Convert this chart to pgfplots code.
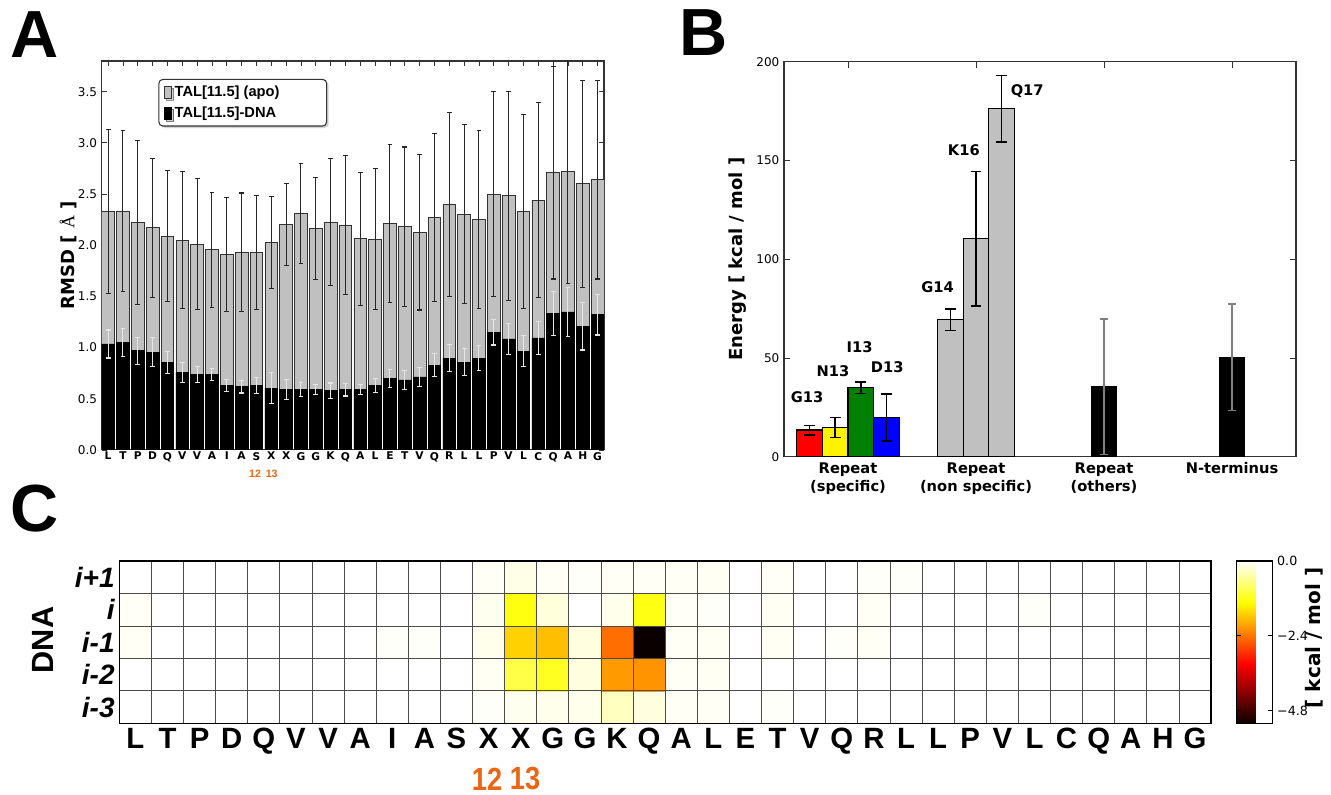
\documentclass[border=0pt]{standalone}
\usepackage{pgfplots}
\pgfplotsset{compat=1.18}
\usepackage{pgfplotstable}
\usepackage{fontspec}
\setmainfont{DejaVu Sans}
\newfontfamily\lib{Liberation Sans}
\newfontfamily\libserif{Liberation Serif}
\usetikzlibrary{shadows}
\definecolor{silverg}{RGB}{192,192,192}
\definecolor{orng}{RGB}{234,102,20}
\definecolor{mplgreen}{RGB}{0,128,0}
\pgfplotsset{colormap={hotcm}{rgb255(0cm)=(11,0,0); rgb255(3.65cm)=(255,0,0); rgb255(7.46cm)=(255,255,0); rgb255(10cm)=(255,255,255)}}

\pgfplotstableread{
i g ge b be
0 2.33 0.80 1.035 0.137
1 2.335 0.79 1.048 0.137
2 2.22 0.80 0.968 0.135
3 2.17 0.68 0.955 0.143
4 2.09 0.64 0.855 0.105
5 2.05 0.67 0.758 0.098
6 2.01 0.64 0.735 0.076
7 1.955 0.56 0.735 0.058
8 1.91 0.56 0.629 0.055
9 1.93 0.58 0.616 0.06
10 1.93 0.56 0.632 0.077
11 2.03 0.45 0.603 0.153
12 2.20 0.40 0.590 0.095
13 2.31 0.49 0.590 0.071
14 2.165 0.50 0.587 0.05
15 2.227 0.62 0.580 0.074
16 2.198 0.68 0.590 0.063
17 2.064 0.65 0.587 0.05
18 2.06 0.69 0.629 0.071
19 2.21 0.77 0.697 0.089
20 2.18 0.78 0.684 0.09
21 2.127 0.76 0.713 0.094
22 2.27 0.82 0.826 0.113
23 2.40 0.90 0.897 0.132
24 2.305 0.875 0.858 0.129
25 2.25 0.87 0.897 0.119
26 2.50 1.00 1.148 0.123
27 2.484 1.02 1.084 0.148
28 2.328 0.95 0.965 0.153
29 2.44 0.95 1.094 0.16
30 2.71 1.04 1.335 0.215
31 2.724 1.10 1.348 0.242
32 2.60 1.01 1.21 0.234
33 2.64 0.97 1.323 0.2
}\dataA

\begin{document}
\begin{tikzpicture}
\useasboundingbox (0,0) rectangle (998.25pt,596.25pt);

% ---------------- Panel A ----------------
\begin{axis}[
  at={(76.3pt,258.8pt)}, anchor=south west, scale only axis,
  width=376.7pt, height=291.7pt,
  xmin=-0.43, xmax=33.43, ymin=0, ymax=3.8,
  xtick={0,...,33},
  xticklabels={L,T,P,D,Q,V,V,A,I,A,S,X,X,G,G,K,Q,A,L,E,T,V,Q,R,L,L,P,V,L,C,Q,A,H,G},
  ytick={0,0.5,1,1.5,2,2.5,3,3.5},
  tick align=inside, major tick length=4pt,
  tick style={black!80, line width=0.6pt},
  axis line style={black!80, line width=0.8pt},
  xticklabel style={font=\bfseries\fontsize{8}{9}\selectfont, inner sep=1.5pt},
  yticklabel style={font=\fontsize{9}{10}\selectfont, /pgf/number format/fixed, /pgf/number format/fixed zerofill, /pgf/number format/precision=1, /pgf/number format/assume math mode=true},
  ylabel={\bfseries RMSD [ {\libserif\mdseries Å} ]},
  ylabel style={at={(axis description cs:-0.067,0.5)}, anchor=center, font=\bfseries\fontsize{13.5}{15}\selectfont},
  legend image code/.code={\draw[#1, line width=0.6pt, sharp corners] (0pt,-4.5pt) rectangle (5.25pt,4.5pt);},
  legend style={at={(0.1127,0.954)}, anchor=north west, draw=black!80, line width=0.8pt, rounded corners=3pt, fill=white,
    font=\lib\bfseries\fontsize{11}{13}\selectfont, row sep=2pt, inner xsep=4pt, inner ysep=3pt,
    drop shadow={shadow xshift=1.5pt, shadow yshift=-1.5pt, fill=black!35}},
  legend cell align=left,
]
\addplot[ybar, bar width=0.86, bar shift=0pt, fill=silverg, draw=black!80, line width=0.6pt,
  error bars/.cd, y dir=both, y explicit,
  error bar style={black!85, line width=0.8pt},
  error mark options={rotate=90, black!85, line width=0.8pt, mark size=1.8pt}]
  table[x=i, y=g, y error=ge] {\dataA};
\addlegendentry{\makebox[108pt][l]{TAL[11.5] (apo)}}
\addplot[ybar, bar width=0.86, bar shift=0pt, fill=black, draw=black, line width=0.6pt,
  error bars/.cd, y dir=both, y explicit,
  error bar style={black!10, line width=0.8pt},
  error mark options={rotate=90, black!10, line width=0.8pt, mark size=1.8pt}]
  table[x=i, y=b, y error=be] {\dataA};
\addlegendentry{\makebox[108pt][l]{TAL[11.5]-DNA}}
\end{axis}

% ---------------- Panel B ----------------
\begin{axis}[
  at={(588pt,253.7pt)}, anchor=south west, scale only axis,
  width=384pt, height=296.25pt,
  xmin=-0.5, xmax=3.5, ymin=0, ymax=200,
  xtick={0,1,2,3},
  xticklabels={{Repeat\\(specific)},{Repeat\\(non specific)},{Repeat\\(others)},{N-terminus}},
  xticklabel style={align=center, anchor=north, font=\bfseries\fontsize{11}{13.5}\selectfont, yshift=-1pt},
  ytick={0,50,100,150,200},
  yticklabel style={font=\fontsize{9}{10}\selectfont, /pgf/number format/assume math mode=true},
  tick align=inside, major tick length=4.5pt,
  tick style={black!80, line width=0.6pt},
  axis line style={black!80, line width=0.8pt},
  ylabel={Energy [ kcal / mol ]},
  ylabel style={at={(axis description cs:-0.09,0.5)}, anchor=center, font=\bfseries\fontsize{13.5}{15}\selectfont},
]
\addplot[ybar, bar width=0.2, bar shift=0pt, fill=red, draw=black, line width=1pt,
  error bars/.cd, y dir=both, y explicit, error bar style={black, line width=1.2pt},
  error mark options={rotate=90, black, line width=1.2pt, mark size=4pt}]
  coordinates {(-0.3,13.5) +- (0,2.4)};
\addplot[ybar, bar width=0.2, bar shift=0pt, fill=yellow, draw=black, line width=1pt,
  error bars/.cd, y dir=both, y explicit, error bar style={black, line width=1.2pt},
  error mark options={rotate=90, black, line width=1.2pt, mark size=4pt}]
  coordinates {(-0.1,14.8) +- (0,5.0)};
\addplot[ybar, bar width=0.2, bar shift=0pt, fill=mplgreen, draw=black, line width=1pt,
  error bars/.cd, y dir=both, y explicit, error bar style={black, line width=1.2pt},
  error mark options={rotate=90, black, line width=1.2pt, mark size=4pt}]
  coordinates {(0.1,34.9) +- (0,2.9)};
\addplot[ybar, bar width=0.2, bar shift=0pt, fill=blue, draw=black, line width=1pt,
  error bars/.cd, y dir=both, y explicit, error bar style={black, line width=1.2pt},
  error mark options={rotate=90, black, line width=1.2pt, mark size=4pt}]
  coordinates {(0.3,19.9) +- (0,11.8)};
\addplot[ybar, bar width=0.2, bar shift=0pt, fill=silverg, draw=black, line width=1pt,
  error bars/.cd, y dir=both, y explicit, error bar style={black, line width=1.2pt},
  error mark options={rotate=90, black, line width=1.2pt, mark size=4pt}]
  coordinates {(0.8,69.4) +- (0,5.5) (1.0,110.4) +- (0,34.0) (1.2,176.2) +- (0,16.8)};
\addplot[ybar, bar width=0.2, bar shift=0pt, fill=black, draw=black, line width=1pt,
  error bars/.cd, y dir=both, y explicit, error bar style={black!50, line width=1pt},
  error mark options={rotate=90, black!50, line width=1pt, mark size=3pt}]
  coordinates {(2,35.4) +- (0,34.4) (3,50.3) +- (0,27)};
\begin{scope}[every node/.style={font=\bfseries\fontsize{11}{12}\selectfont}]
\node at (axis cs:-0.32,30.1) {G13};
\node at (axis cs:-0.117,43.4) {N13};
\node at (axis cs:0.091,55.7) {I13};
\node at (axis cs:0.306,45.6) {D13};
\node at (axis cs:0.70,86) {G14};
\node at (axis cs:0.905,155) {K16};
\node at (axis cs:1.40,185.2) {Q17};
\end{scope}
\end{axis}

% ---------------- Panel C ----------------
\begin{axis}[
  at={(89.5pt,53.8pt)}, anchor=south west, scale only axis,
  width=818.8pt, height=121.7pt,
  xmin=-0.5, xmax=33.5, ymin=-0.5, ymax=4.5,
  enlargelimits=false,
  xtick={0,...,33},
  xticklabels={L,T,P,D,Q,V,V,A,I,A,S,X,X,G,G,K,Q,A,L,E,T,V,Q,R,L,L,P,V,L,C,Q,A,H,G},
  ytick={0,1,2,3,4},
  yticklabels={i-3,i-2,i-1,i,i+1},
  xticklabel style={font=\lib\bfseries\fontsize{22}{24}\selectfont},
  yticklabel style={font=\lib\bfseries\itshape\fontsize{21}{23}\selectfont},
  major tick length=0pt, minor tick length=0pt,
  minor xtick={-0.5,0.5,...,33.5},
  minor ytick={-0.5,0.5,...,4.5},
  xminorgrids=true, yminorgrids=true,
  minor grid style={black!70, line width=0.6pt},
  axis on top,
  axis line style={black, line width=0.9pt},
  colormap name=hotcm,
  point meta min=-5.2, point meta max=0,
  colorbar,
  colorbar style={at={(parent axis.north east)}, anchor=north west, xshift=10.7pt,
    width=26.8pt, ytick={-4.8,-2.4,0}, yticklabels={−4.8,−2.4,0.0},
    yticklabel style={font=\fontsize{9.5}{11}\selectfont},
    tick align=inside, major tick length=3pt,
    tick style={black, line width=0.6pt},
    axis line style={black, line width=0.8pt}},
]
\addplot[matrix plot*, mesh/cols=34, mesh/rows=5, point meta=explicit] coordinates {
(0,0)[0] (1,0)[0] (2,0)[0] (3,0)[0] (4,0)[0] (5,0)[0] (6,0)[0] (7,0)[0] (8,0)[0] (9,0)[0] (10,0)[0] (11,0)[-0.03] (12,0)[-0.08] (13,0)[-0.1] (14,0)[-0.1] (15,0)[-0.33] (16,0)[-0.16] (17,0)[-0.05] (18,0)[-0.05] (19,0)[0] (20,0)[-0.03] (21,0)[0] (22,0)[0] (23,0)[0] (24,0)[0] (25,0)[0] (26,0)[0] (27,0)[0] (28,0)[0] (29,0)[0] (30,0)[0] (31,0)[0] (32,0)[0] (33,0)[0]
(0,1)[0] (1,1)[0] (2,1)[0] (3,1)[0] (4,1)[0] (5,1)[0] (6,1)[0] (7,1)[0] (8,1)[0] (9,1)[0] (10,1)[0] (11,1)[-0.06] (12,1)[-0.95] (13,1)[-1.15] (14,1)[-0.16] (15,1)[-2.1] (16,1)[-2.16] (17,1)[-0.05] (18,1)[-0.06] (19,1)[0] (20,1)[0] (21,1)[0] (22,1)[0] (23,1)[0] (24,1)[0] (25,1)[0] (26,1)[0] (27,1)[0] (28,1)[0] (29,1)[0] (30,1)[0] (31,1)[0] (32,1)[0] (33,1)[0]
(0,2)[-0.05] (1,2)[0] (2,2)[0] (3,2)[0] (4,2)[0] (5,2)[0] (6,2)[0] (7,2)[0] (8,2)[-0.03] (9,2)[-0.03] (10,2)[0] (11,2)[-0.1] (12,2)[-1.68] (13,2)[-1.82] (14,2)[-0.16] (15,2)[-2.45] (16,2)[-5.2] (17,2)[-0.05] (18,2)[-0.06] (19,2)[0] (20,2)[-0.06] (21,2)[0] (22,2)[-0.03] (23,2)[-0.05] (24,2)[0] (25,2)[0] (26,2)[0] (27,2)[0] (28,2)[0] (29,2)[0] (30,2)[0] (31,2)[0] (32,2)[0] (33,2)[0]
(0,3)[-0.04] (1,3)[0] (2,3)[0] (3,3)[0] (4,3)[0] (5,3)[0] (6,3)[0] (7,3)[0] (8,3)[0] (9,3)[0] (10,3)[0] (11,3)[-0.08] (12,3)[-1.24] (13,3)[-0.18] (14,3)[0] (15,3)[-0.1] (16,3)[-1.22] (17,3)[-0.04] (18,3)[-0.03] (19,3)[0] (20,3)[-0.06] (21,3)[0] (22,3)[0] (23,3)[-0.05] (24,3)[0] (25,3)[0] (26,3)[0] (27,3)[0] (28,3)[-0.03] (29,3)[0] (30,3)[0] (31,3)[0] (32,3)[0] (33,3)[0]
(0,4)[0] (1,4)[0] (2,4)[0] (3,4)[0] (4,4)[0] (5,4)[0] (6,4)[0] (7,4)[0] (8,4)[0] (9,4)[0] (10,4)[0] (11,4)[-0.05] (12,4)[-0.12] (13,4)[-0.05] (14,4)[-0.03] (15,4)[-0.05] (16,4)[-0.05] (17,4)[-0.05] (18,4)[-0.06] (19,4)[0] (20,4)[-0.04] (21,4)[0] (22,4)[0] (23,4)[-0.03] (24,4)[-0.03] (25,4)[0] (26,4)[0] (27,4)[0] (28,4)[0] (29,4)[0] (30,4)[0] (31,4)[0] (32,4)[0] (33,4)[0]
};
\end{axis}

% ---------------- free text (pixel coordinates of the reference) ----------------
\begin{scope}[shift={(0pt,596.25pt)}, x=0.75pt, y=-0.75pt]
\node[font=\lib\bfseries\fontsize{50}{50}\selectfont] at (34.7,34.5) {A};
\node[font=\lib\bfseries\fontsize{50}{50}\selectfont] at (704,33) {B};
\node[font=\lib\bfseries\fontsize{50}{50}\selectfont] at (35,508.5) {C};
\node[font=\lib\bfseries\fontsize{8}{9}\selectfont, text=orng] at (255,474) {12};
\node[font=\lib\bfseries\fontsize{8}{9}\selectfont, text=orng] at (271.7,474) {13};
\node[font=\lib\bfseries\fontsize{24}{26}\selectfont, text=orng] at (487,779) {\scalebox{0.85}[1]{12}};
\node[font=\lib\bfseries\fontsize{24}{26}\selectfont, text=orng] at (525,779) {\scalebox{0.85}[1]{13}};
\node[font=\lib\bfseries\fontsize{23}{25}\selectfont, rotate=90] at (43,640) {DNA};
\node[font=\bfseries\fontsize{15}{17}\selectfont, rotate=90] at (1314,638) {[ kcal / mol ]};
\end{scope}
\end{tikzpicture}
\end{document}
